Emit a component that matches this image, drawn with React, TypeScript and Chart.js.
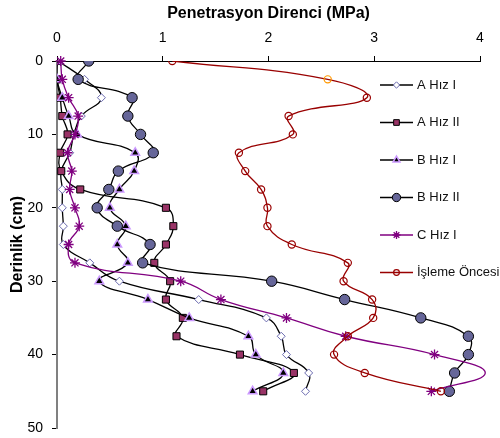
import { useEffect, useRef } from 'react';
import { Chart, registerables } from 'chart.js';
import { drawPoint } from 'chart.js/helpers';

Chart.register(...registerables);

const depths = [0, 2.5, 5, 7.5, 10, 12.5, 15, 17.5, 20, 22.5, 25, 27.5, 30, 32.5, 35, 37.5, 40, 42.5, 45];
const aHizI = [0.01, 0.26, 0.42, 0.23, 0.16, 0.12, 0.04, 0.05, 0.05, 0.06, 0.06, 0.31, 0.59, 1.34, 1.98, 2.12, 2.17, 2.38, 2.35];
const aHizII = [0, 0, 0.03, 0.05, 0.10, 0.03, 0.04, 0.22, 1.03, 1.10, 1.03, 0.92, 1.07, 1.03, 1.19, 1.13, 1.73, 2.24, 1.95];
const bHizI = [0, 0, 0.05, 0.11, 0.19, 0.74, 0.73, 0.59, 0.50, 0.65, 0.57, 0.67, 0.40, 0.86, 1.25, 1.81, 1.88, 2.14, 1.85];
const bHizII = [0.30, 0.20, 0.71, 0.67, 0.79, 0.91, 0.58, 0.49, 0.38, 0.57, 0.88, 0.81, 2.03, 2.72, 3.44, 3.89, 3.89, 3.76, 3.71];
const cHizI = [0.035, 0.05, 0.11, 0.20, 0.17, 0.10, 0.14, 0.12, 0.17, 0.21, 0.11, 0.17, 1.17, 1.55, 2.17, 2.73, 3.57, 4.05, 3.54];
const islemeOncesi = [1.09, 2.56, 2.93, 2.19, 2.23, 1.72, 1.78, 1.93, 1.99, 1.99, 2.22, 2.75, 2.71, 2.98, 2.99, 2.75, 2.62, 2.91, 3.63];

const seriesNames = ['A Hız I', 'A Hız II', 'B Hız I', 'B Hız II', 'C Hız I', 'İşleme Öncesi'];
const seriesValues = [aHizI, aHizII, bHizI, bHizII, cHizI, islemeOncesi];
const xTickValues = [0, 1, 2, 3, 4];
const yTickValues = [0, 10, 20, 30, 40, 50];

const xTitle = 'Penetrasyon Direnci (MPa)';
const yTitle = 'Derinlik (cm)';

const FONT = 'Arial, "Liberation Sans", sans-serif';

type Style = {
  line: string;
  pointStyle: string;
  radius: number;
  fill: string;
  border: string;
  borderWidth: number;
};

const styles: Style[] = [
  { line: '#000000', pointStyle: 'rectRot', radius: 4, fill: '#ffffff', border: '#6b6bb0', borderWidth: 1 },
  { line: '#000000', pointStyle: 'rect', radius: 5, fill: '#993366', border: '#000000', borderWidth: 1 },
  { line: '#000000', pointStyle: 'triangle', radius: 5, fill: '#000000', border: '#cc99ff', borderWidth: 1.5 },
  { line: '#000000', pointStyle: 'circle', radius: 5.2, fill: '#666699', border: '#000000', borderWidth: 1 },
  { line: '#800080', pointStyle: 'star', radius: 5, fill: '#800080', border: '#800080', borderWidth: 1.3 },
  { line: '#990000', pointStyle: 'circle', radius: 3.6, fill: 'rgba(255,255,255,0)', border: '#990000', borderWidth: 1.2 },
];

const legendPlugin = {
  id: 'customLegend',
  afterDraw(chart: any) {
    const ctx = chart.ctx as CanvasRenderingContext2D;
    seriesNames.forEach((name, i) => {
      const st = styles[i];
      const y = 85 + i * 37.5;
      ctx.save();
      ctx.strokeStyle = st.line;
      ctx.lineWidth = 1.3;
      ctx.beginPath();
      ctx.moveTo(380, y);
      ctx.lineTo(413, y);
      ctx.stroke();
      ctx.fillStyle = st.fill;
      ctx.strokeStyle = st.border;
      ctx.lineWidth = st.borderWidth;
      drawPoint(ctx, { pointStyle: st.pointStyle as any, radius: st.radius * 0.8, borderWidth: st.borderWidth, rotation: 0 } as any, 396.5, y);
      ctx.fillStyle = '#111111';
      ctx.font = `13px ${FONT}`;
      ctx.textBaseline = 'middle';
      ctx.textAlign = 'left';
      ctx.fillText(name, 417, y);
      ctx.restore();
    });
  },
};

export default function App() {
  const canvasRef = useRef<HTMLCanvasElement | null>(null);

  useEffect(() => {
    if (!canvasRef.current) return;
    Chart.defaults.font.family = FONT;
    const datasets = seriesNames.map((name, i) => {
      const st = styles[i];
      const vals = seriesValues[i];
      const isC = i === 4;
      const isIsleme = i === 5;
      return {
        label: name,
        data: vals.map((v, k) => ({ x: v, y: depths[k] })),
        showLine: true,
        borderColor: st.line,
        borderWidth: 1.3,
        tension: 0.45,
        fill: false,
        pointStyle: st.pointStyle,
        pointRadius: isC ? vals.map((v) => (v > 4 ? 0 : st.radius)) : st.radius,
        pointBackgroundColor: st.fill,
        pointBorderColor: isIsleme ? vals.map((_, k) => (k === 1 ? '#ff9900' : st.border)) : st.border,
        pointBorderWidth: st.borderWidth,
        clip: isC ? false : undefined,
        order: 5 - i,
      };
    });

    const chart = new Chart(canvasRef.current, {
      type: 'scatter',
      data: { datasets: datasets as any },
      options: {
        animation: false,
        responsive: false,
        maintainAspectRatio: false,
        layout: { padding: { left: 0, top: 0, right: 20, bottom: 10 } },
        elements: { line: { capBezierPoints: false } },
        plugins: {
          legend: { display: false },
          tooltip: { enabled: false },
        },
        scales: {
          x: {
            type: 'linear',
            position: 'top',
            min: 0,
            max: 4,
            afterBuildTicks: (scale: any) => {
              scale.ticks = xTickValues.map((v) => ({ value: v }));
            },
            afterFit: (scale: any) => {
              scale.height = 61;
              scale.paddingRight = 0;
              scale.paddingLeft = 0;
            },
            ticks: { color: '#000000', font: { size: 14 }, padding: 9.5 },
            grid: { display: true, drawOnChartArea: false, drawTicks: true, tickLength: 5, color: '#000000' },
            border: { display: true, color: '#000000', width: 1 },
            title: {
              display: true,
              text: xTitle,
              color: '#000000',
              font: { size: 16, weight: 'bold' },
              padding: { top: 3.5, bottom: 0 },
            },
          },
          y: {
            type: 'linear',
            reverse: true,
            min: 0,
            max: 50,
            afterBuildTicks: (scale: any) => {
              scale.ticks = yTickValues.map((v) => ({ value: v }));
            },
            afterFit: (scale: any) => {
              scale.width = 57;
              scale.paddingTop = 0;
              scale.paddingBottom = 0;
            },
            ticks: { color: '#000000', font: { size: 14 }, padding: 9 },
            grid: { display: true, drawOnChartArea: false, drawTicks: true, tickLength: 5, color: '#000000' },
            border: { display: true, color: '#808080', width: 2 },
            title: {
              display: true,
              text: yTitle,
              color: '#000000',
              font: { size: 16, weight: 'bold' },
              padding: { top: 8, bottom: 0 },
            },
          },
        },
      } as any,
      plugins: [legendPlugin],
    });
    return () => chart.destroy();
  }, []);

  return (
    <div style={{ position: 'absolute', left: 0, top: 0, width: 500, height: 438, background: '#ffffff' }}>
      <canvas ref={canvasRef} width={500} height={438} style={{ display: 'block' }} />
    </div>
  );
}
